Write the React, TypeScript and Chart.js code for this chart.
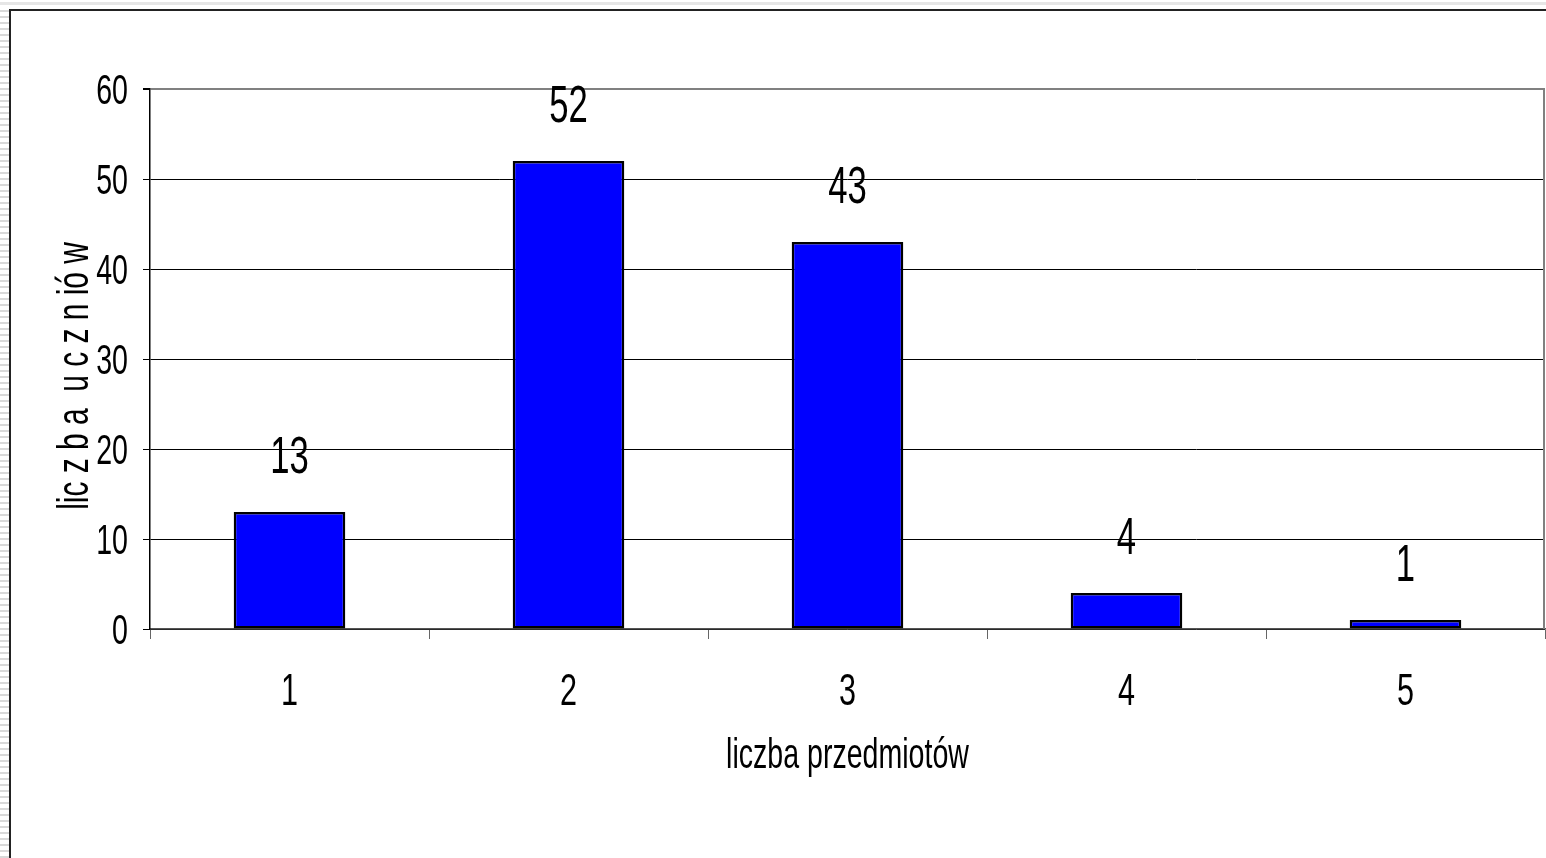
import React, { useEffect, useRef } from "react";
import { Chart, registerables } from "chart.js";

Chart.register(...registerables);

const categories = ["1", "2", "3", "4", "5"];
const studentCounts = [13, 52, 43, 4, 1];
const yTickValues = [0, 10, 20, 30, 40, 50, 60];
const xTitle = "liczba przedmiotów";
const yTitle = "lic z b a  u c z n ió w";

const FONT = "'Liberation Sans', Arial, sans-serif";
const SQUEEZE = 0.68;

function narrowText(
  ctx: CanvasRenderingContext2D,
  text: string,
  x: number,
  y: number,
  size: number,
  align: CanvasTextAlign,
  rotate = 0
) {
  ctx.save();
  ctx.translate(x, y);
  if (rotate) ctx.rotate(rotate);
  ctx.scale(SQUEEZE, 1);
  ctx.font = `${size}px ${FONT}`;
  ctx.fillStyle = "#000";
  ctx.textAlign = align;
  ctx.textBaseline = "alphabetic";
  ctx.fillText(text, 0, 0);
  ctx.restore();
}

const textLayer = {
  id: "textLayer",
  afterDraw(chart: any) {
    const ctx = chart.ctx as CanvasRenderingContext2D;
    const { chartArea } = chart;
    const xs = chart.scales.x;
    const ys = chart.scales.y;

    yTickValues.forEach((v) => {
      const py = ys.getPixelForValue(v);
      narrowText(ctx, String(v), chartArea.left - 22, py + 15, 42, "right");
    });

    categories.forEach((c, i) => {
      const px = xs.getPixelForValue(i);
      narrowText(ctx, c, px, chartArea.bottom + 76, 45, "center");
    });

    const meta = chart.getDatasetMeta(0);
    meta.data.forEach((bar: any, i: number) => {
      narrowText(ctx, String(studentCounts[i]), bar.x, bar.y - 39, 51, "center");
    });

    narrowText(ctx, xTitle, (chartArea.left + chartArea.right) / 2, 768, 42, "center");
    narrowText(ctx, yTitle, 88, 376, 44, "center", -Math.PI / 2);

    ctx.save();
    ctx.strokeStyle = "#808080";
    ctx.lineWidth = 2;
    ctx.beginPath();
    ctx.moveTo(chartArea.right - 1, chartArea.top);
    ctx.lineTo(chartArea.right - 1, chartArea.bottom);
    ctx.stroke();
    ctx.restore();
  },
};

export default function App() {
  const ref = useRef<HTMLCanvasElement>(null);

  useEffect(() => {
    if (!ref.current) return;
    const chart = new Chart(ref.current, {
      type: "bar",
      data: {
        labels: categories,
        datasets: [
          {
            data: studentCounts,
            backgroundColor: "#0000ff",
            borderColor: "#000000",
            borderWidth: 2.5,
            borderSkipped: false,
            categoryPercentage: 1,
            barPercentage: 0.4,
          },
        ],
      },
      options: {
        responsive: false,
        animation: false,
        devicePixelRatio: 1,
        layout: { padding: { top: 89, right: 1, left: 0, bottom: 0 } },
        plugins: { legend: { display: false }, tooltip: { enabled: false } },
        scales: {
          x: {
            afterFit: (s: any) => {
              s.height = 229;
            },
            grid: {
              drawOnChartArea: false,
              drawTicks: true,
              tickLength: 10,
              color: "#666",
              offset: true,
            },
            border: { display: true, color: "#555", width: 1.5 },
            ticks: { display: false },
            title: { display: false, text: xTitle },
          },
          y: {
            min: 0,
            max: 60,
            afterFit: (s: any) => {
              s.width = 150;
            },
            afterBuildTicks: (s: any) => {
              s.ticks = yTickValues.map((v) => ({ value: v }));
            },
            grid: {
              color: (c: any) => (c.tick && c.tick.value === 60 ? "#808080" : "#000"),
              lineWidth: (c: any) => (c.tick && c.tick.value === 60 ? 2 : 1),
              tickColor: "#000",
              tickLength: 7,
            },
            border: { display: true, color: "#000", width: 1.5 },
            ticks: { display: false },
            title: { display: false, text: yTitle },
          },
        },
      },
      plugins: [textLayer],
    });
    return () => chart.destroy();
  }, []);

  return (
    <div
      style={{
        position: "fixed",
        left: 0,
        top: 0,
        width: 1546,
        height: 858,
        overflow: "hidden",
        background: "#fff",
      }}
    >
      <div
        style={{
          position: "absolute",
          left: 0,
          top: 2,
          width: 1546,
          height: 3,
          background: "#e6e6e6",
        }}
      />
      <div
        style={{
          position: "absolute",
          left: 0,
          top: 10,
          width: 9,
          height: 848,
          background:
            "repeating-linear-gradient(to bottom, #d9d9d9 0px, #d9d9d9 2px, #ffffff 2px, #ffffff 6px)",
        }}
      />
      <div
        style={{
          position: "absolute",
          left: 9,
          top: 9,
          width: 2000,
          height: 2000,
          border: "2px solid #222",
          background: "#fff",
        }}
      />
      <canvas
        ref={ref}
        width={1546}
        height={858}
        style={{ position: "absolute", left: 0, top: 0, width: 1546, height: 858 }}
      />
    </div>
  );
}
